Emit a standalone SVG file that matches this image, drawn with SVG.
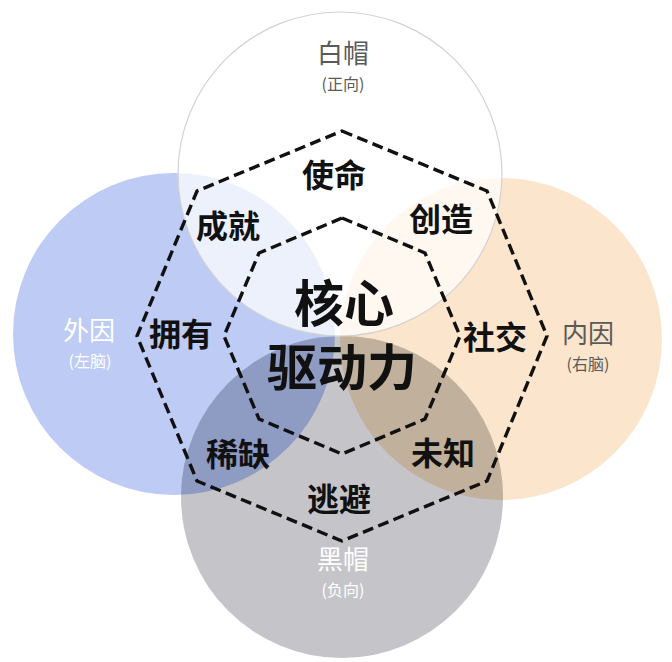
<svg xmlns="http://www.w3.org/2000/svg" width="672" height="662" viewBox="0 0 672 662">
<style>
text{font-family:"Noto Sans CJK SC","Noto Sans",sans-serif;text-anchor:middle}
.lbl{font-size:32px;font-weight:700;fill:#111}
.core{font-size:50px;font-weight:700;fill:#111}
.hat{font-size:26px;font-weight:400}
.sub{font-size:16px;font-weight:400}
.dark{fill:#5a5a5a}
.light{fill:#ffffff}
.dash{fill:none;stroke:#111;stroke-width:3.4;stroke-dasharray:11 5.5;stroke-linejoin:miter}
</style>
<defs>
<clipPath id="clipBlue"><circle cx="174" cy="334" r="161"/></clipPath>
<clipPath id="clipOrange"><circle cx="501" cy="339" r="161"/></clipPath>
</defs>
<rect width="672" height="662" fill="#ffffff"/>
<g id="circles">
<g id="outer-left"><circle cx="174" cy="334" r="161" fill="#bdcbf5"/></g>
<g id="inner-right"><circle cx="501" cy="339" r="161" fill="#fbe5cc"/></g>
<g id="black-hat-circle">
<circle cx="342" cy="497" r="161" fill="#c5c5c9"/>
<circle cx="342" cy="497" r="161" fill="#8e9bc3" clip-path="url(#clipBlue)"/>
<circle cx="342" cy="497" r="161" fill="#c1b09c" clip-path="url(#clipOrange)"/>
</g>
<g id="white-hat-circle"><circle cx="340" cy="174" r="162" fill="#ffffff" fill-opacity="0.72" stroke="#d2d2d2" stroke-width="1.2"/></g>
</g>
<g id="connectors">
<polygon class="dash" points="342,131 487,191 547,336 487,481 342,541 197,481 137,336 197,191"/>
<polygon class="dash" points="342,218 425,253 460,336 425,419 342,454 259,419 224,336 259,253"/>
</g>
<g id="white-hat">
<text class="hat dark" x="343" y="63">白帽</text>
<text class="sub dark" x="343" y="89.5">(正向)</text>
</g>
<g id="external">
<text class="hat light" x="89" y="340">外因</text>
<text class="sub light" x="90" y="366.5">(左脑)</text>
</g>
<g id="internal">
<text class="hat dark" x="588" y="343">内因</text>
<text class="sub dark" x="588" y="369.5">(右脑)</text>
</g>
<g id="black-hat">
<text class="hat light" x="343" y="569">黑帽</text>
<text class="sub light" x="343" y="595.5">(负向)</text>
</g>
<g id="n-mission"><text class="lbl" x="334" y="187">使命</text></g>
<g id="n-achievement"><text class="lbl" x="228" y="238">成就</text></g>
<g id="n-creation"><text class="lbl" x="441" y="231">创造</text></g>
<g id="n-possession"><text class="lbl" x="181" y="346">拥有</text></g>
<g id="n-social"><text class="lbl" x="495" y="349">社交</text></g>
<g id="n-scarcity"><text class="lbl" x="238" y="466">稀缺</text></g>
<g id="n-unknown"><text class="lbl" x="443" y="465">未知</text></g>
<g id="n-avoidance"><text class="lbl" x="339" y="511">逃避</text></g>
<g id="n-core">
<text class="core"><tspan x="344" y="322">核心</tspan><tspan x="342" y="386">驱动力</tspan></text>
</g>
</svg>
